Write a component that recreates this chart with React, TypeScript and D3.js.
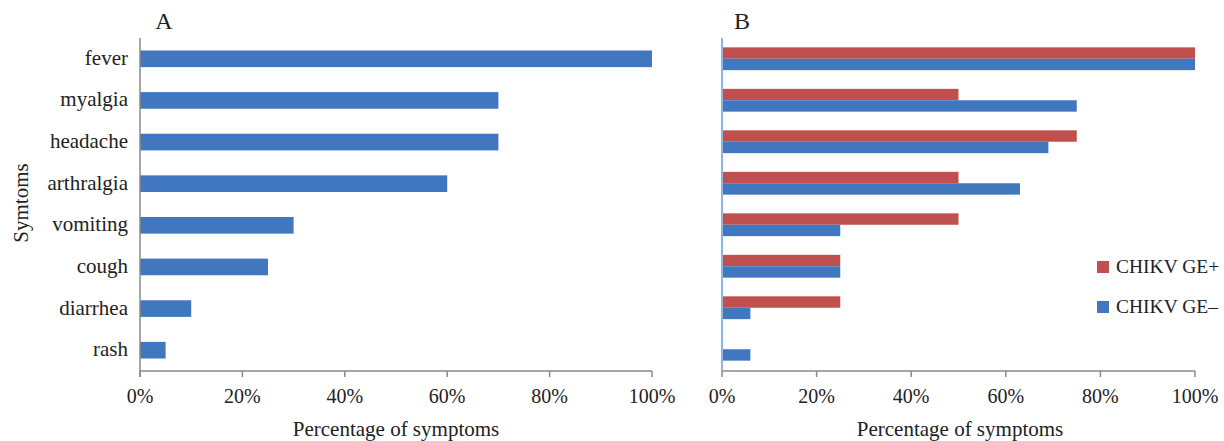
import React from "react";
import * as d3 from "d3";

const symptoms = ["fever", "myalgia", "headache", "arthralgia", "vomiting", "cough", "diarrhea", "rash"];
const overall = [100, 70, 70, 60, 30, 25, 10, 5];
const gePlus = [100, 50, 75, 50, 50, 25, 25, 0];
const geMinus = [100, 75, 69, 63, 25, 25, 6, 6];
const ticks = [0, 20, 40, 60, 80, 100];
const seriesNames = ["CHIKV GE+", "CHIKV GE\u2013"];

const BLUE = "#4177BE";
const RED = "#C0504D";
const FONT = "Liberation Serif";
const TEXT = "#222";

const ts = (size: number) => ({ fontFamily: FONT, fontSize: size, fill: TEXT });

export default function App() {
  const W = 1224, H = 441;
  const top = 38, bottom = 371;

  const xA = d3.scaleLinear().domain([0, 100]).range([140, 652]);
  const xB = d3.scaleLinear().domain([0, 100]).range([722, 1195]);
  const yA = d3.scaleBand().domain(symptoms).range([top, bottom]).paddingInner(0.6).paddingOuter(0.3);
  const yB = d3.scaleBand().domain(symptoms).range([top, bottom - 1]).paddingInner(0.45).paddingOuter(0.225);
  const sub = d3.scaleBand().domain(seriesNames).range([0, yB.bandwidth()]);

  const axis = (x: d3.ScaleLinear<number, number>, cx: number, title: string) => (
    <g>
      <line x1={x(0)} x2={x(100)} y1={bottom} y2={bottom} stroke="#8a8a8a" strokeWidth={1.5} />
      {ticks.map((t) => (
        <g key={t}>
          <line x1={x(t)} x2={x(t)} y1={bottom} y2={bottom + 6} stroke="#8a8a8a" strokeWidth={1.5} />
          <text x={x(t)} y={403} textAnchor="middle" style={ts(20)}>
            {t}%
          </text>
        </g>
      ))}
      <text x={cx} y={436} textAnchor="middle" style={ts(21)}>
        {title}
      </text>
    </g>
  );

  return (
    <svg width={W} height={H} style={{ position: "absolute", left: 0, top: 0, background: "#fff" }}>
      <rect width={W} height={H} fill="#fff" />
      {/* Panel A */}
      <text x={164} y={29} textAnchor="middle" style={ts(24)}>A</text>
      {symptoms.map((s, i) => (
        <g key={s}>
          <rect x={xA(0)} y={yA(s)!} width={xA(overall[i]) - xA(0)} height={yA.bandwidth()} fill={BLUE} />
          <text x={128} y={yA(s)! + yA.bandwidth() / 2 + 6} textAnchor="end" style={ts(21)}>
            {s}
          </text>
        </g>
      ))}
      <line x1={140} x2={140} y1={top} y2={bottom + 6} stroke="#8a8a8a" strokeWidth={1.5} />
      {axis(xA, 396, "Percentage of symptoms")}
      <text transform="translate(28,203) rotate(-90)" textAnchor="middle" style={ts(21)}>
        Symtoms
      </text>

      {/* Panel B */}
      <text x={742} y={29} textAnchor="middle" style={ts(24)}>B</text>
      {symptoms.map((s, i) => (
        <g key={s}>
          {gePlus[i] > 0 && (
            <rect x={xB(0)} y={yB(s)! + sub(seriesNames[0])!} width={xB(gePlus[i]) - xB(0)} height={sub.bandwidth()} fill={RED} />
          )}
          <rect x={xB(0)} y={yB(s)! + sub(seriesNames[1])!} width={xB(geMinus[i]) - xB(0)} height={sub.bandwidth()} fill={BLUE} />
        </g>
      ))}
      {axis(xB, 960, "Percentage of symptoms")}
      <line x1={722} x2={722} y1={top} y2={bottom} stroke="#8EB4E3" strokeWidth={2} />

      {/* Legend */}
      {seriesNames.map((n, i) => (
        <g key={n} transform={`translate(1097,${261 + i * 40})`}>
          <rect x={0} y={0} width={12} height={12} fill={i === 0 ? RED : BLUE} />
          <text x={19} y={12} style={ts(19.5)}>{n}</text>
        </g>
      ))}
    </svg>
  );
}
